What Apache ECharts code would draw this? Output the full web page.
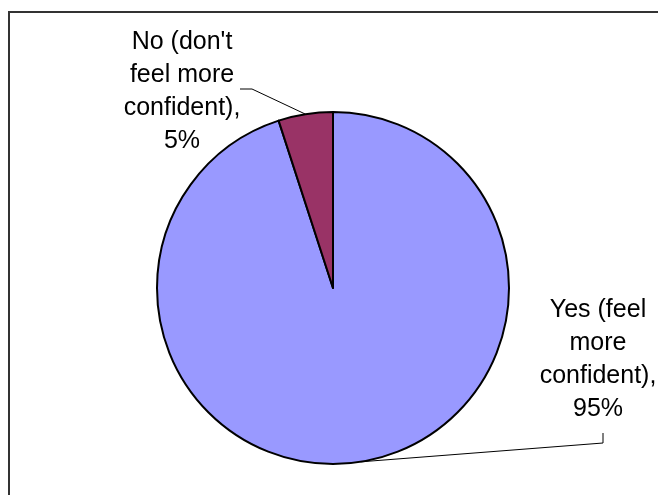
<!DOCTYPE html>
<html>
<head>
<meta charset="utf-8">
<script src="https://cdn.jsdelivr.net/npm/echarts@6/dist/echarts.min.js"></script>
<style>
html,body{margin:0;padding:0;background:#fff;}
#chart{width:658px;height:495px;}
</style>
</head>
<body>
<div id="chart"></div>
<script>
const categories = ["Yes (feel\nmore\nconfident)", "No (don't\nfeel more\nconfident)"];
const values = [95, 5];
const colors = ['#9999FF', '#993366'];

const chart = echarts.init(document.getElementById('chart'), null, {renderer: 'canvas'});

const labelSpots = {
  0: {x: 598, y: 360, bend: [603, 443], end: [603, 433]},
  1: {x: 182, y: 92, bend: [252, 89], end: [240, 89]}
};

chart.setOption({
  backgroundColor: '#ffffff',
  animation: false,
  graphic: [{
    type: 'rect',
    shape: {x: 9, y: 12, width: 700, height: 600},
    style: {fill: 'none', stroke: '#333', lineWidth: 2},
    silent: true,
    z: 10
  }],
  series: [{
    type: 'pie',
    center: [333, 288],
    radius: [0, 176],
    startAngle: 90,
    clockwise: true,
    avoidLabelOverlap: false,
    data: categories.map((c, i) => ({name: c, value: values[i], itemStyle: {color: colors[i]}})),
    itemStyle: {borderColor: '#000', borderWidth: 2},
    label: {
      show: true,
      position: 'outside',
      formatter: p => p.name + ',\n' + p.value + '%',
      color: '#000',
      fontFamily: 'Liberation Sans, Arial, sans-serif',
      fontSize: 25,
      lineHeight: 33,
      align: 'center'
    },
    labelLine: {show: true, smooth: false, lineStyle: {color: '#000', width: 1}},
    labelLayout: function (params) {
      const s = labelSpots[params.dataIndex];
      const p0 = params.labelLinePoints ? params.labelLinePoints[0] : s.bend;
      return {
        x: s.x, y: s.y, align: 'center', verticalAlign: 'middle',
        labelLinePoints: [p0, s.bend, s.end]
      };
    },
    emphasis: {disabled: true}
  }]
});
</script>
</body>
</html>
